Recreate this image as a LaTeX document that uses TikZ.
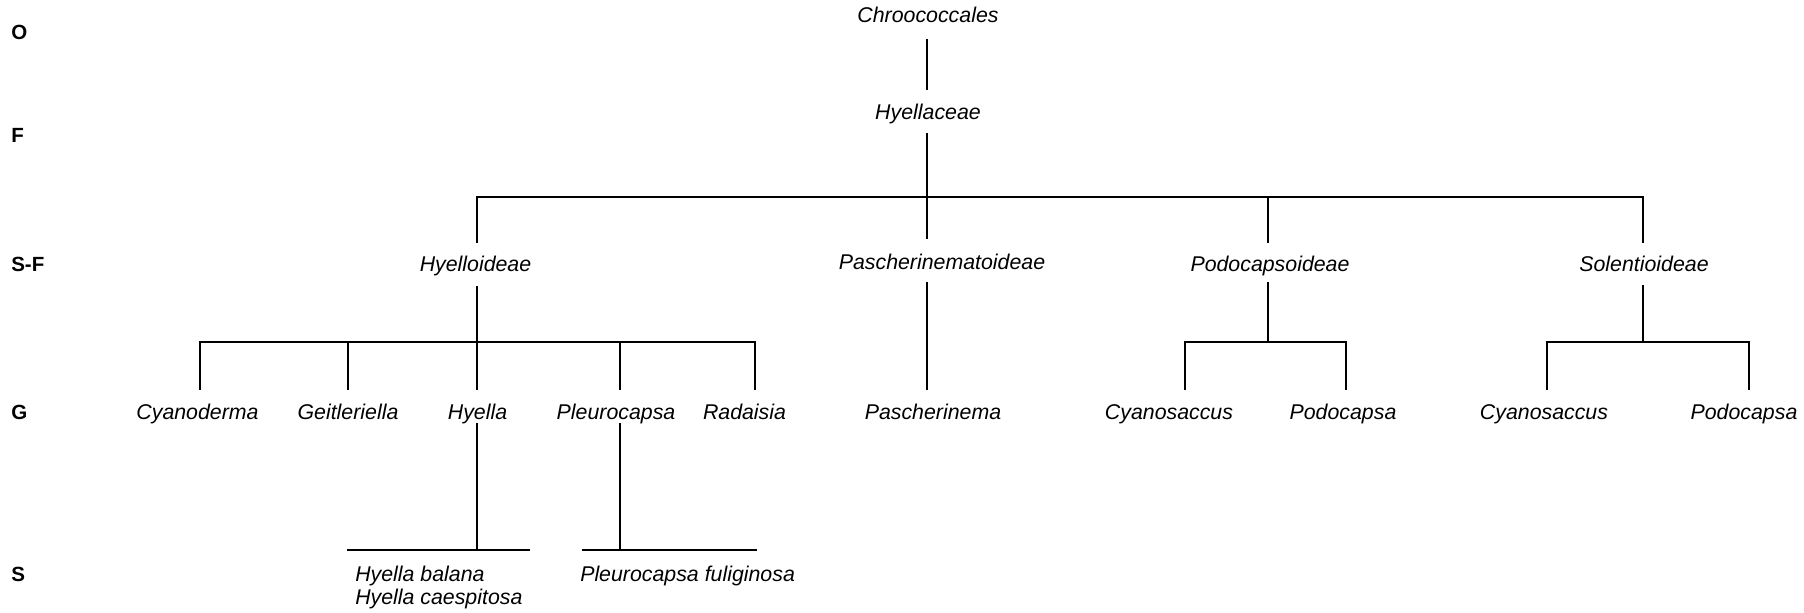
\documentclass[tikz,border=0pt]{standalone}
\usepackage{fontspec}
\setmainfont{Liberation Sans}
\begin{document}
\begin{tikzpicture}[x=0.75pt,y=-0.75pt,
  taxon/.style={inner sep=0pt,anchor=base,font=\fontsize{16}{19}\selectfont\itshape},
  taxonw/.style={inner sep=0pt,anchor=base west,font=\fontsize{16}{19}\selectfont\itshape},
  rank/.style={inner sep=0pt,anchor=base west,font=\fontsize{15.4}{18.5}\selectfont\bfseries},
  edge/.style={line width=1.3pt,line cap=rect}]
\path[fill=white,use as bounding box] (0,0) rectangle (1804,613);

% rank labels
\node[rank] (rO) at (11,39.3) {O};
\node[rank] (rF) at (11,142.7) {F};
\node[rank] (rSF) at (11,271.7) {S-F};
\node[rank] (rG) at (11,419) {G};
\node[rank] (rS) at (11,581) {S};

% taxa
\node[taxon] (chroo) at (928,22.7) {Chroococcales};
\node[taxon] (hyellaceae) at (928,119.3) {Hyellaceae};
\node[taxon] (hyelloideae) at (475.5,272) {Hyelloideae};
\node[taxon] (pascheroid) at (942,269) {Pascherinematoideae};
\node[taxon] (podocapsoid) at (1270,272) {Podocapsoideae};
\node[taxon] (solentioid) at (1644,272) {Solentioideae};

\node[taxon] (cyanoderma) at (197.5,419) {Cyanoderma};
\node[taxon] (geitler) at (348,419) {Geitleriella};
\node[taxon] (hyella) at (477.5,419) {Hyella};
\node[taxon] (pleuro) at (616,419) {Pleurocapsa};
\node[taxon] (radaisia) at (744.5,419) {Radaisia};
\node[taxon] (pascherinema) at (933,419) {Pascherinema};
\node[taxon] (cyanosaccA) at (1169,419) {Cyanosaccus};
\node[taxon] (podocapsaA) at (1343,419) {Podocapsa};
\node[taxon] (cyanosaccB) at (1544,419) {Cyanosaccus};
\node[taxon] (podocapsaB) at (1744,419) {Podocapsa};

\node[taxonw] (hbalana) at (355,581) {Hyella balana};
\node[taxonw] (hcaesp) at (355,604) {Hyella caespitosa};
\node[taxonw] (pfulig) at (580,581) {Pleurocapsa fuliginosa};

% connector end points
\coordinate (c1) at (927,40);
\coordinate (c2) at (927,89);
\coordinate (f1) at (927,134);
\coordinate (f2) at (927,238);
\coordinate (barL) at (477,197);
\coordinate (barR) at (1643,197);
\coordinate (podoTop) at (1268,197);
\coordinate (hyelTopB) at (477,242);
\coordinate (podoTopB) at (1268,242);
\coordinate (soleTopB) at (1643,242);

\coordinate (hyelD) at (477,287);
\coordinate (pascD) at (927,283);
\coordinate (podoD) at (1268,283);
\coordinate (soleD) at (1643,286);

\coordinate (hyelJ) at (477,342);
\coordinate (podoJ) at (1268,342);
\coordinate (soleJ) at (1643,342);
\coordinate (pascB) at (927,389);

\coordinate (g1) at (200,342);  \coordinate (g1b) at (200,389);
\coordinate (g2) at (348,342);  \coordinate (g2b) at (348,389);
\coordinate (g3) at (477,342);  \coordinate (g3b) at (477,389);
\coordinate (g4) at (620,342);  \coordinate (g4b) at (620,389);
\coordinate (g5) at (755,342);  \coordinate (g5b) at (755,389);
\coordinate (g6) at (1185,342); \coordinate (g6b) at (1185,389);
\coordinate (g7) at (1346,342); \coordinate (g7b) at (1346,389);
\coordinate (g8) at (1547,342); \coordinate (g8b) at (1547,389);
\coordinate (g9) at (1749,342); \coordinate (g9b) at (1749,389);

\coordinate (hyD) at (477,424);
\coordinate (hyJ) at (477,550);
\coordinate (hyL) at (348,550);
\coordinate (hyR) at (529,550);
\coordinate (plD) at (620,424);
\coordinate (plJ) at (620,550);
\coordinate (plL) at (583,550);
\coordinate (plR) at (756,550);

% connectors
\draw[edge] (c1) -- (c2);
\draw[edge] (f1) -- (f2);
\draw[edge] (hyelTopB) -- (barL) -- (barR) -- (soleTopB);
\draw[edge] (podoTop) -- (podoTopB);

\draw[edge] (hyelD) -- (hyelJ);
\draw[edge] (pascD) -- (pascB);
\draw[edge] (podoD) -- (podoJ);
\draw[edge] (soleD) -- (soleJ);

\draw[edge] (g1b) -- (g1) -- (g5) -- (g5b);
\draw[edge] (g2) -- (g2b);
\draw[edge] (g3) -- (g3b);
\draw[edge] (g4) -- (g4b);
\draw[edge] (g6b) -- (g6) -- (g7) -- (g7b);
\draw[edge] (g8b) -- (g8) -- (g9) -- (g9b);

\draw[edge] (hyD) -- (hyJ);
\draw[edge] (hyL) -- (hyR);
\draw[edge] (plD) -- (plJ);
\draw[edge] (plL) -- (plR);
\end{tikzpicture}
\end{document}
